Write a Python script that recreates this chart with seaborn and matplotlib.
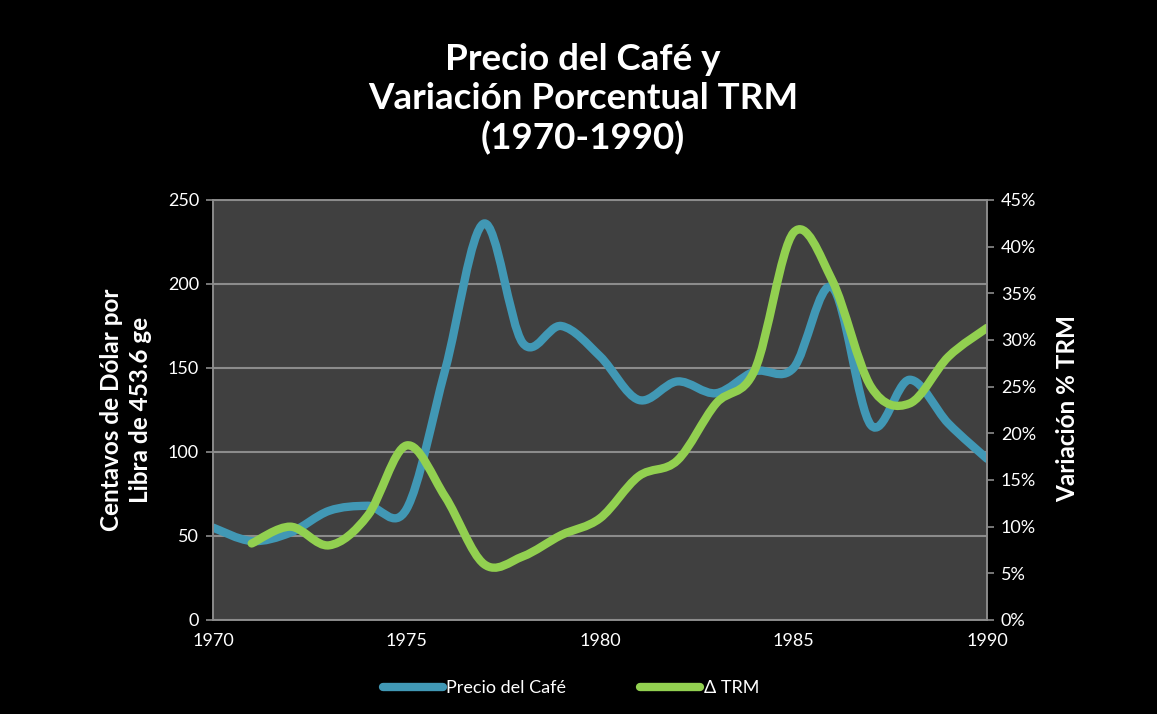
import numpy as np
import pandas as pd
import matplotlib.pyplot as plt
import seaborn as sns
from matplotlib.path import Path
from matplotlib.patches import PathPatch
from matplotlib.lines import Line2D
from matplotlib.ticker import FuncFormatter

# datos
anios_cafe = [1970, 1971, 1972, 1973, 1974, 1975, 1976, 1977, 1978, 1979, 1980,
              1981, 1982, 1983, 1984, 1985, 1986, 1987, 1988, 1989, 1990]
precio_cafe = [55, 47, 52, 65, 68, 66, 149, 236, 165, 175, 157,
               131, 142, 135, 148, 150, 198, 116, 143, 117, 96]

anios_trm = [1971, 1972, 1973, 1974, 1975, 1976, 1977, 1978, 1979, 1980,
             1981, 1982, 1983, 1984, 1985, 1986, 1987, 1988, 1989, 1990]
var_trm = [0.082, 0.100, 0.080, 0.112, 0.187, 0.132, 0.060, 0.068, 0.091, 0.109,
           0.154, 0.171, 0.232, 0.268, 0.415, 0.364, 0.250, 0.232, 0.282, 0.313]

azul = '#4198B5'
verde = '#92D050'
gris = '#8C8C8C'


def linea_suave(ax, xs, ys, color, lw):
    # curva tipo Excel (bezier por los puntos)
    pts = np.column_stack([xs, ys]).astype(float)
    n = len(pts)
    verts = [tuple(pts[0])]
    codes = [Path.MOVETO]
    for i in range(n - 1):
        p0 = pts[max(i - 1, 0)]
        p1 = pts[i]
        p2 = pts[i + 1]
        p3 = pts[min(i + 2, n - 1)]
        c1 = p1 + (p2 - p0) / 6
        c2 = p2 - (p3 - p1) / 6
        verts += [tuple(c1), tuple(c2), tuple(p2)]
        codes += [Path.CURVE4] * 3
    patch = PathPatch(Path(verts, codes), fill=False, edgecolor=color, lw=lw,
                      capstyle='round', joinstyle='round')
    ax.add_patch(patch)


sns.set_style('dark')
plt.rcParams['font.family'] = ['Lato', 'DejaVu Sans']

fig = plt.figure(figsize=(11.57, 7.14), dpi=100)
fig.patch.set_facecolor('black')
ax = fig.add_axes([213 / 1157, 1 - 620 / 714, 774 / 1157, 420 / 714])
ax.set_facecolor('#404040')
ax2 = ax.twinx()

df_cafe = pd.DataFrame({'anio': anios_cafe, 'precio': precio_cafe})
df_trm = pd.DataFrame({'anio': anios_trm, 'trm': var_trm})

linea_suave(ax, df_cafe['anio'], df_cafe['precio'], azul, 6)
linea_suave(ax2, df_trm['anio'], df_trm['trm'], verde, 6)

ax.set_xlim(1970, 1990)
ax.set_ylim(0, 250)
ax2.set_ylim(0, 0.45)
ax.set_xticks([1970, 1975, 1980, 1985, 1990])
ax.set_yticks(range(0, 251, 50))
ax2.set_yticks(np.arange(0, 0.451, 0.05))
ax2.yaxis.set_major_formatter(FuncFormatter(lambda v, p: f'{v * 100:.0f}%'))

ax.grid(False)
ax2.grid(False)
ax.yaxis.grid(True, color=gris, lw=1.5)
ax.set_axisbelow(True)

for a in (ax, ax2):
    for s in a.spines.values():
        s.set_visible(True)
        s.set_color(gris)
        s.set_linewidth(1.2)
    a.tick_params(colors='white', labelsize=13, length=5, width=1.2,
                  direction='out', color=gris)
ax.tick_params(axis='y', pad=5)
ax2.tick_params(axis='y', pad=5)
ax.tick_params(axis='x', pad=4)
ax.set_xlabel('')
ax.set_ylabel('')

fig.text(583 / 1157, 1 - 99 / 714, 'Precio del Café y\nVariación Porcentual TRM\n(1970-1990)',
         ha='center', va='center', color='white', fontsize=26.5, fontweight='bold',
         linespacing=1.22)
fig.text(126 / 1157, 1 - 410 / 714, 'Centavos de Dólar por\nLibra de 453.6 ge',
         rotation=90, ha='center', va='center', color='white', fontsize=17.5,
         fontweight='bold', multialignment='center', linespacing=1.35)
fig.text(1068 / 1157, 1 - 409 / 714, 'Variación % TRM', rotation=90,
         ha='center', va='center', color='white', fontsize=17.5, fontweight='bold')

handles = [Line2D([], [], color=azul, lw=6, solid_capstyle='round'),
           Line2D([], [], color=verde, lw=6, solid_capstyle='round')]
leg = fig.legend(handles, ['Precio del Café', 'Δ TRM'], loc='center',
                 bbox_to_anchor=(571 / 1157, 1 - 688 / 714), ncol=2,
                 frameon=False, fontsize=13, handlelength=3.3,
                 handletextpad=0.2, columnspacing=4.1)
for t in leg.get_texts():
    t.set_color('white')

plt.savefig('out.png', dpi=100, facecolor=fig.get_facecolor())
